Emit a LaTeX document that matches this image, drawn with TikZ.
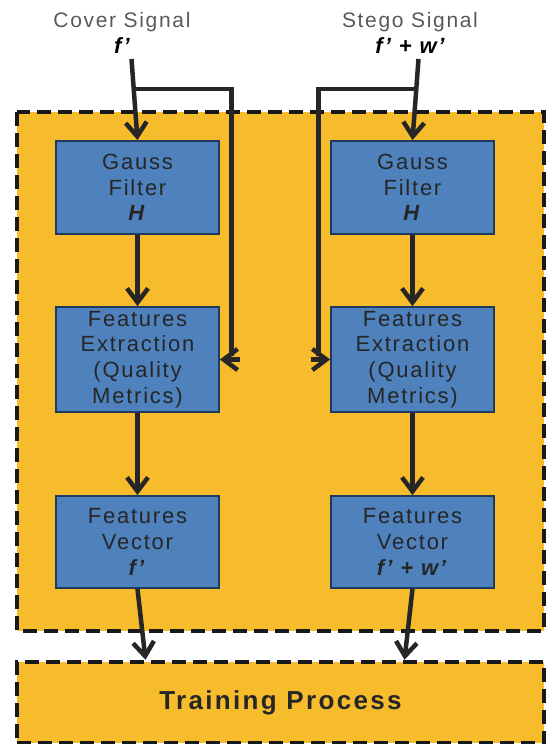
\documentclass[tikz,border=0pt]{standalone}
\usepackage{fontspec}
\setmainfont{Liberation Sans}[LetterSpace=8]
\usetikzlibrary{arrows.meta}
\definecolor{stageorange}{HTML}{F6BC2C}
\definecolor{blockblue}{HTML}{4F81BD}
\definecolor{blockedge}{HTML}{1F3A5F}
\begin{document}
\begin{tikzpicture}[x=1pt, y=-1pt,
    frame/.style={draw=black!90, line width=4.5pt, dash pattern=on 14pt off 7pt, fill=stageorange},
    block/.style={draw=blockedge, line width=1.8pt, fill=blockblue, minimum width=163pt,
      inner sep=0pt, align=center, text=black!85, font=\fontsize{22}{25.7}\selectfont},
    title/.style={text=black!65, font=\fontsize{21}{24}\selectfont},
    signal/.style={font=\fontsize{22}{24}\selectfont\bfseries\itshape},
    arr/.style={draw=black!85, line width=4.5pt, -{Straight Barb[length=14pt,width=21pt]}},
    wire/.style={draw=black!85, line width=4.5pt}]
    \useasboundingbox (0,0) rectangle (547,744);
    \def \gap {94} % bypass line, measured from the column centre
    \path[frame] (17,112) rectangle (544,631);
    \node[frame, minimum width=527pt, minimum height=81pt, inner sep=0pt,
      font=\fontsize{26}{28}\selectfont\bfseries\addfontfeatures{LetterSpace=9}, text=black!85] (train) at (280.5,702.5) {Training Process};
    \foreach \c/\x/\tx/\s/\side/\sig/\val in
      {L/137.5/122/1/east/{Cover Signal}/{f’}, R/412.5/410/-1/west/{Stego Signal}/{f’ + w’}}
    {
      \node[title] (sig\c) at (\tx,22) {\sig};
      \node[signal] (val\c) at (\tx,46) {\val};
      \node[block, minimum height=93pt] (gauss\c) at (\x,187.5) {Gauss\\Filter\\\textbf{\textit{H}}};
      \node[block, minimum height=105pt] (feat\c) at (\x,359.5) {Features\\Extraction\\(Quality\\Metrics)};
      \node[block, minimum height=92pt] (vec\c) at (\x,542) {Features\\Vector\\\textbf{\textit{\val}}};
      \coordinate (in\c) at (\x-6*\s,59);
      \coordinate (split\c) at (\x-4*\s,89);
      \coordinate (bend\c) at (\x+\gap*\s,356);
      \coordinate (back\c) at (\x+\gap*\s+8*\s,359.5);
      \draw[arr] (in\c) -- (gauss\c.north);
      \draw[wire] (split\c) -| (bend\c);
      \draw[arr] (back\c) -- (feat\c.\side);
      \draw[arr] (gauss\c) -- (feat\c);
      \draw[arr] (feat\c) -- (vec\c);
      \draw[arr] (vec\c.south) -- ([xshift={\s*8pt}]vec\c.south |- train.north);
    }
\end{tikzpicture}
\end{document}
